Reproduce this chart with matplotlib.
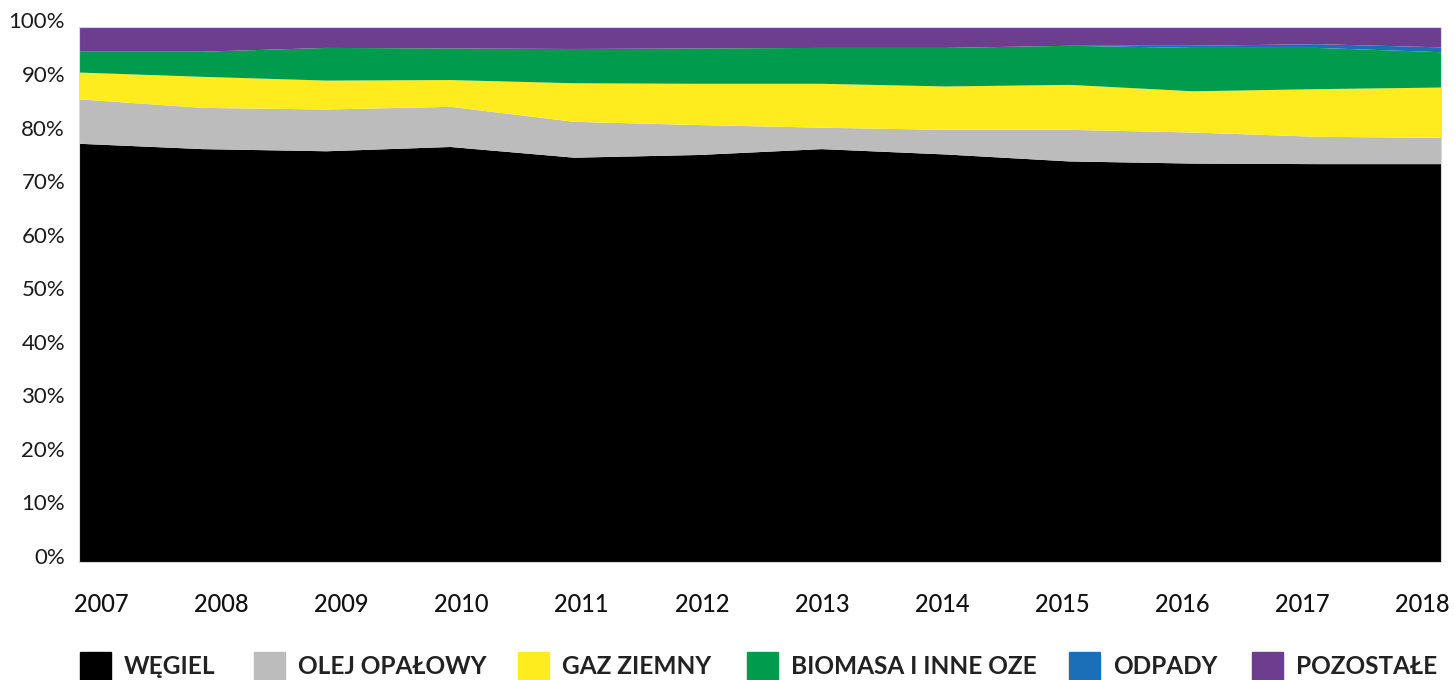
import matplotlib
matplotlib.use('Agg')
import matplotlib.pyplot as plt
import matplotlib.transforms as mtransforms
from matplotlib.patches import Rectangle
import numpy as np

plt.rcParams['font.family'] = ['Lato', 'DejaVu Sans']

years = [2007, 2008, 2009, 2010, 2011, 2012, 2013, 2014, 2015, 2016, 2017, 2018]
labels = ['WĘGIEL', 'OLEJ OPAŁOWY', 'GAZ ZIEMNY', 'BIOMASA I INNE OZE', 'ODPADY', 'POZOSTAŁE']
colors = ['#000000', '#bcbcbc', '#ffec1f', '#009b4d', '#1a6fb8', '#6d3d8f']

# udzialy procentowe
wegiel = [78.1, 77.1, 76.7, 77.5, 75.5, 76.0, 77.1, 76.1, 74.8, 74.4, 74.3, 74.3]
olej = [8.3, 7.7, 7.8, 7.5, 6.7, 5.6, 4.0, 4.6, 5.9, 5.8, 5.1, 4.9]
gaz = [5.0, 5.8, 5.4, 5.0, 7.2, 7.7, 8.2, 8.1, 8.4, 7.7, 8.9, 9.4]
biomasa = [3.9, 4.7, 6.1, 5.9, 6.4, 6.6, 6.7, 7.2, 7.3, 8.1, 7.7, 6.6]
odpady = [0.0, 0.0, 0.0, 0.0, 0.0, 0.0, 0.0, 0.0, 0.0, 0.4, 0.7, 0.9]
pozostale = [4.7, 4.7, 4.0, 4.1, 4.2, 4.1, 4.0, 4.0, 3.6, 3.6, 3.3, 3.9]

series = [wegiel, olej, gaz, biomasa, odpady, pozostale]

fig = plt.figure(figsize=(14.54, 6.8), dpi=100)
ax = fig.add_axes([79 / 1454, 118 / 680, 1362 / 1454, 535.5 / 680])

ax.stackplot(years, *series, colors=colors, linewidth=0)

ax.set_xlim(2007, 2018)
ax.set_ylim(0, 100)

ax.set_yticks(np.arange(0, 101, 10))
ax.set_yticklabels([str(v) + '%' for v in range(0, 101, 10)], fontsize=16, color='#1a1a1a')
# etykiety lat rozlozone jak w oryginale (lekko do srodka)
ax.set_xticks(np.linspace(2007.18, 2017.85, 12))
ax.set_xticklabels([str(y) for y in years], fontsize=17, fontweight='medium', color='#111111')
ax.tick_params(axis='both', length=0)
ax.tick_params(axis='y', pad=10)
ax.tick_params(axis='x', pad=22)

offset = mtransforms.ScaledTranslation(0, 6 / 100, fig.dpi_scale_trans)
for lbl in ax.get_yticklabels():
    lbl.set_transform(lbl.get_transform() + offset)

for s in ax.spines.values():
    s.set_color('#d9d9d9')
    s.set_linewidth(0.8)

# legenda
box_x = [80, 254, 518, 747, 1069, 1252]
for i in range(len(labels)):
    x0 = box_x[i]
    fig.patches.append(Rectangle((x0 / 1454, 0), 31 / 1454, 28 / 680,
                                 transform=fig.transFigure, color=colors[i]))
    fig.text((x0 + 44) / 1454, 14 / 680, labels[i], fontsize=17.6, fontweight='bold',
             color='#222222', va='center', ha='left')

fig.savefig('out.png', dpi=100)
